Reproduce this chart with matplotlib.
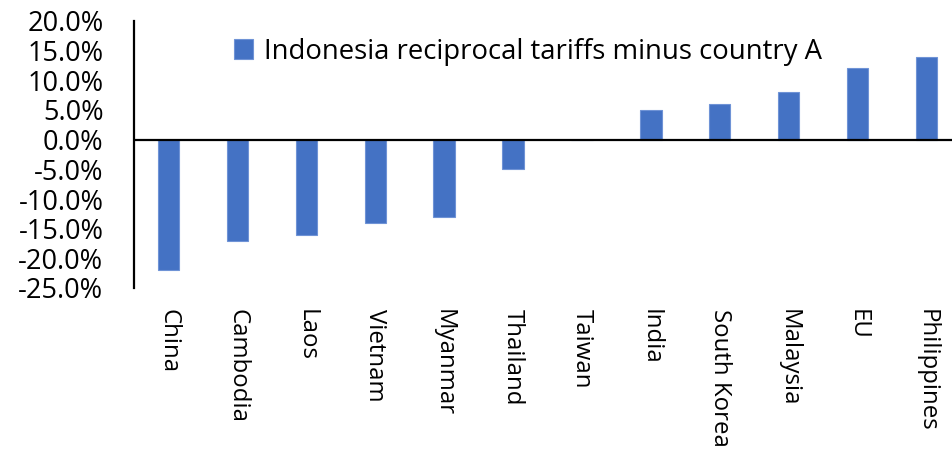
import matplotlib
matplotlib.use("Agg")
import matplotlib.pyplot as plt
from matplotlib.ticker import FuncFormatter

countries = ["China", "Cambodia", "Laos", "Vietnam", "Myanmar", "Thailand",
             "Taiwan", "India", "South Korea", "Malaysia", "EU", "Philippines"]
diff = [-22, -17, -16, -14, -13, -5, 0, 5, 6, 8, 12, 14]
series_name = "Indonesia reciprocal tariffs minus country A"

fig = plt.figure(figsize=(9.53, 4.66), dpi=100)
ax = fig.add_axes([134 / 953, 178 / 466, 827 / 953, 267 / 466])

x = range(len(countries))
ax.bar(x, diff, width=0.31, color="#4472C4", edgecolor="#6f93d6",
       linewidth=0.8, label=series_name, zorder=2)

ax.set_xlim(-0.5, len(countries) - 0.5)
ax.set_ylim(-25, 20)
ax.set_yticks(range(-25, 21, 5))
ax.yaxis.set_major_formatter(FuncFormatter(lambda v, p: f"{v:.1f}%"))

ax.axhline(0, color="black", linewidth=1.6, zorder=3)
for s in ["top", "right", "bottom"]:
    ax.spines[s].set_visible(False)
ax.spines["left"].set_linewidth(1.6)

ax.tick_params(axis="y", length=0, pad=22)
ax.tick_params(axis="x", length=0, pad=15)
ax.set_xticks(list(x))
ax.set_xticklabels(countries, rotation=-90, va="top", ha="center")
for lab in ax.get_yticklabels():
    lab.set_fontfamily("Open Sans")
    lab.set_fontsize(19.5)
for lab in ax.get_xticklabels():
    lab.set_fontfamily("Open Sans")
    lab.set_fontsize(17.3)

leg = ax.legend(loc="upper left", bbox_to_anchor=(234 / 953, 1 - 38 / 466),
                bbox_transform=fig.transFigure, frameon=False,
                prop={"family": "Open Sans", "size": 19.8},
                handlelength=0.7, handleheight=0.75, handletextpad=0.4,
                borderaxespad=0, borderpad=0)

fig.savefig("out.png", dpi=100)
